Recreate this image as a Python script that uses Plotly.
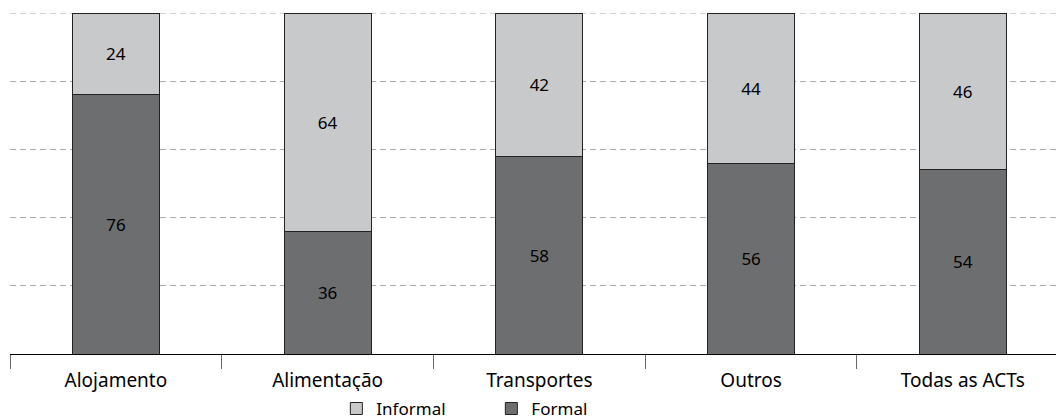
import plotly.graph_objects as go

categories = ["Alojamento", "Alimentação", "Transportes", "Outros", "Todas as ACTs"]
formal = [76, 36, 58, 56, 54]
informal = [24, 64, 42, 44, 46]

FONT = "Noto Sans"

fig = go.Figure()

fig.add_trace(go.Bar(x=categories, y=formal, name="Formal",
                     marker=dict(color="#6d6e70", line=dict(color="#222222", width=1)),
                     text=formal, textposition="inside", insidetextanchor="middle",
                     textfont=dict(color="black", size=17, family=FONT)))
fig.add_trace(go.Bar(x=categories, y=informal, name="Informal",
                     marker=dict(color="#c8c9cb", line=dict(color="#222222", width=1)),
                     text=informal, textposition="inside", insidetextanchor="middle",
                     textfont=dict(color="black", size=17, family=FONT)))

# dashed line at the top (100), plotly drops grid lines on the edge
fig.add_shape(type="line", xref="paper", yref="y", x0=0, x1=1, y0=100, y1=100,
              line=dict(color="#aaaaaa", width=1, dash="6px,4px"), layer="below")

fig.update_layout(
    barmode="stack",
    bargap=0.59,
    width=1056, height=419,
    margin=dict(l=10, r=0, t=13, b=65),
    plot_bgcolor="white",
    paper_bgcolor="white",
    font=dict(family=FONT, size=18, color="black"),
    uniformtext=dict(minsize=17, mode="show"),
    legend=dict(orientation="h", traceorder="reversed",
                x=0.312, xanchor="left", yref="container", y=0.024, yanchor="middle",
                entrywidth=110, entrywidthmode="pixels",
                font=dict(size=17, family=FONT)),
    xaxis=dict(range=[-0.5, 4.44], showline=True, linecolor="black", linewidth=1,
               ticks="outside", tickson="boundaries", ticklen=14, tickcolor="#666666",
               ticklabelstandoff=9, showgrid=False, tickfont=dict(size=19),
               automargin=False),
    yaxis=dict(range=[0, 100], showticklabels=False, showline=False, zeroline=False,
               showgrid=True, gridcolor="#aaaaaa", griddash="6px,4px", gridwidth=1,
               tickvals=[20, 40, 60, 80], automargin=False),
    annotations=[dict(text="(Em %)", xref="paper", yref="paper", x=0.0, y=1.026,
                      xanchor="left", yanchor="bottom", showarrow=False,
                      font=dict(size=18, family=FONT))],
)

fig.write_html("out.html", config={"displayModeBar": False},
               post_script="document.body.style.margin='0';")
